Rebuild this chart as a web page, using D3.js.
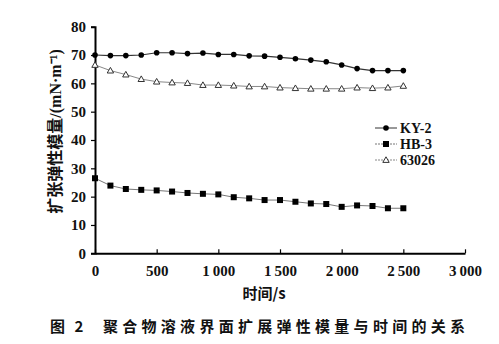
<!DOCTYPE html>
<html>
<head>
<meta charset="utf-8">
<script src="https://cdn.jsdelivr.net/npm/d3@7/dist/d3.min.js"></script>
<style>
  html, body { margin: 0; padding: 0; background: #fff; }
  svg { display: block; }
</style>
</head>
<body>
<script>
// Time points (s), sampled every 125 s
const times = [0, 125, 250, 375, 500, 625, 750, 875, 1000, 1125, 1250,
               1375, 1500, 1625, 1750, 1875, 2000, 2125, 2250, 2375, 2500];

// Dilational elastic modulus, mN/m
const ky2   = [70, 69.8, 69.8, 70, 70.8, 70.8, 70.5, 70.7, 70.2, 70.2, 69.7,
               69.6, 69.2, 68.7, 68.2, 67.6, 66.5, 65.2, 64.5, 64.5, 64.5];
const hb3   = [26.5, 23.9, 22.7, 22.4, 22.2, 21.8, 21.3, 21.0, 20.8, 19.8, 19.4,
               18.8, 18.8, 18.2, 17.6, 17.4, 16.4, 16.9, 16.7, 15.9, 15.9];
const p63026 = [66.5, 64.5, 63.1, 61.5, 60.6, 60.3, 60.1, 59.4, 59.4, 59.2, 58.9,
                58.9, 58.5, 58.3, 58.1, 58.1, 58.1, 58.5, 58.3, 58.5, 59.1];

const seriesNames = ["KY-2", "HB-3", "63026"];
const xTicks = [0, 500, 1000, 1500, 2000, 2500, 3000];
const yTicks = [0, 10, 20, 30, 40, 50, 60, 70, 80];

const yTitleName = "扩张弹性模量";
const yTitleUnit = "/(mN·m⁻¹)";
const xTitle = "时间/s";
const figNo = "图 2";
const caption = "聚合物溶液界面扩展弹性模量与时间的关系";

const SERIF = '"Liberation Serif", "Times New Roman", serif';
const CJK = '"Noto Sans CJK SC", sans-serif';

const W = 499, H = 344;
const svg = d3.select("body").append("svg").attr("width", W).attr("height", H);

const x = d3.scaleLinear().domain([0, 3000]).range([95, 465]);
const y = d3.scaleLinear().domain([0, 80]).range([253.3, 26.7]);

// thousands written with a thin space: "1 000"
const fmtX = d => d >= 1000 ? String(Math.floor(d / 1000)) + "\u2009" + String(d % 1000).padStart(3, "0") : String(d);

// y axis
const yAxis = svg.append("g").attr("transform", `translate(${x(0)},0)`)
  .call(d3.axisLeft(y).tickValues(yTicks).tickSize(4).tickPadding(5));
yAxis.attr("font-family", SERIF).attr("font-size", 15).attr("font-weight", "bold");
yAxis.select(".domain").attr("stroke", "#000").attr("stroke-width", 2);
yAxis.selectAll(".tick line").attr("stroke", "#000").attr("stroke-width", 1.2);
yAxis.selectAll("text").attr("fill", "#111");

// x axis
const xAxis = svg.append("g").attr("transform", `translate(0,${y(0)})`)
  .call(d3.axisBottom(x).tickValues(xTicks).tickSizeInner(-4).tickSizeOuter(0).tickPadding(12).tickFormat(fmtX));
xAxis.attr("font-family", SERIF).attr("font-size", 15).attr("font-weight", "bold");
xAxis.select(".domain").attr("stroke", "#000").attr("stroke-width", 2);
xAxis.selectAll(".tick line").attr("stroke", "#000").attr("stroke-width", 1.2);
xAxis.selectAll("text").attr("fill", "#111");

const line = d3.line().x((d, i) => x(times[i])).y(d => y(d));

const styles = [
  { data: ky2,    stroke: "#333", width: 1.2 },
  { data: hb3,    stroke: "#777", width: 1 },
  { data: p63026, stroke: "#888", width: 1 }
];
styles.forEach(s => {
  svg.append("path").datum(s.data).attr("d", line)
    .attr("fill", "none").attr("stroke", s.stroke).attr("stroke-width", s.width);
});

// markers
function drawMarker(g, kind, cx, cy) {
  if (kind === 0) {
    g.append("circle").attr("cx", cx).attr("cy", cy).attr("r", 2.8).attr("fill", "#000");
  } else if (kind === 1) {
    g.append("rect").attr("x", cx - 3).attr("y", cy - 3).attr("width", 6).attr("height", 6).attr("fill", "#000");
  } else {
    g.append("path")
      .attr("d", `M${cx},${cy - 3.2}L${cx + 3.2},${cy + 2.4}L${cx - 3.2},${cy + 2.4}Z`)
      .attr("fill", "#fff").attr("stroke", "#333").attr("stroke-width", 1);
  }
}
const mg = svg.append("g");
[ky2, hb3, p63026].forEach((arr, k) => {
  arr.forEach((v, i) => drawMarker(mg, k, x(times[i]), y(v)));
});

// legend
const legY = [128, 144, 160];
const lg = svg.append("g");
seriesNames.forEach((name, k) => {
  lg.append("line").attr("x1", 375).attr("x2", 397).attr("y1", legY[k]).attr("y2", legY[k])
    .attr("stroke", styles[k].stroke).attr("stroke-width", 1).attr("stroke-dasharray", k === 0 ? null : "2,1");
  drawMarker(lg, k, 386, legY[k]);
  lg.append("text").attr("x", 400).attr("y", legY[k] + 5)
    .attr("font-family", SERIF).attr("font-weight", "bold")
    .attr("font-size", 14).attr("fill", "#111").text(name);
});

// axis titles
const yt = svg.append("text")
  .attr("transform", `translate(61,131.5) rotate(-90)`)
  .attr("text-anchor", "middle").attr("font-weight", "bold")
  .attr("font-size", 16).attr("fill", "#111");
yt.append("tspan").attr("font-family", CJK).text(yTitleName);
yt.append("tspan").attr("font-family", SERIF).text(yTitleUnit);

svg.append("text")
  .attr("x", 264).attr("y", 299).attr("text-anchor", "middle")
  .attr("font-family", CJK).attr("font-weight", "bold")
  .attr("font-size", 15).attr("fill", "#111").text(xTitle);

// figure caption
svg.append("text")
  .attr("x", 50).attr("y", 332).attr("font-family", CJK).attr("font-weight", "bold")
  .attr("font-size", 15).attr("fill", "#111").attr("letter-spacing", 3)
  .text(figNo);
svg.append("text")
  .attr("x", 103).attr("y", 332).attr("font-family", CJK).attr("font-weight", "bold")
  .attr("font-size", 15).attr("fill", "#111")
  .attr("textLength", 362).attr("lengthAdjust", "spacing")
  .text(caption);
</script>
</body>
</html>
